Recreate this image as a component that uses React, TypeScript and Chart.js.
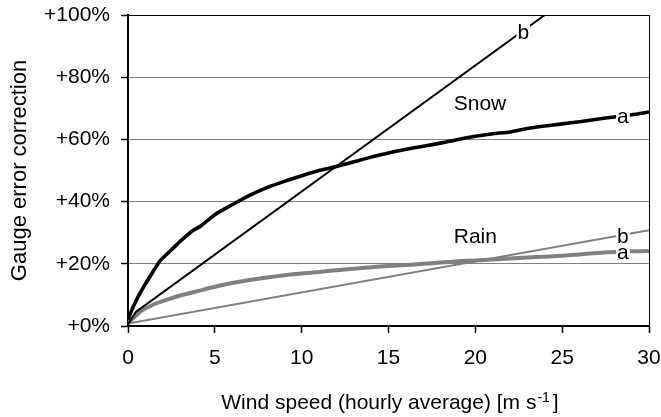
import React, { useEffect, useRef } from "react";
import { Chart, registerables } from "chart.js";

Chart.register(...registerables);

// ---- Data ----
const snowA_x = [0, 0.25, 0.5, 0.8, 1, 1.5, 1.85, 2.5, 3, 3.75, 4.15, 5, 6, 7, 8, 9, 10, 11, 12, 13, 14, 15, 16, 17, 18, 19, 20, 21, 22, 23, 24, 25, 26, 27, 28, 29, 30];
const snowA_y = [2, 5.5, 8.5, 11.6, 13.5, 18, 21, 24.5, 27.2, 30.8, 32, 35.8, 39, 42, 44.5, 46.5, 48.3, 50, 51.3, 52.8, 54.3, 55.6, 56.8, 57.8, 58.8, 60, 61, 61.8, 62.4, 63.5, 64.3, 65, 65.7, 66.5, 67.2, 67.9, 68.8];

const snowB_x = [0, 0.45, 24];
const snowB_y = [0.5, 4.5, 100];

const rainA_x = [0, 0.3, 0.7, 1, 1.5, 2, 3, 4, 5, 6, 7, 8, 9, 10, 11, 12, 13, 14, 15, 16, 17, 18, 19, 20, 21, 22, 23, 24, 25, 26, 27, 28, 29, 30];
const rainA_y = [1, 2.5, 4.6, 5.6, 7, 8, 9.8, 11.2, 12.6, 13.8, 14.8, 15.6, 16.3, 16.9, 17.4, 17.9, 18.4, 18.9, 19.3, 19.6, 20, 20.4, 20.8, 21.1, 21.4, 21.7, 22, 22.3, 22.6, 23, 23.5, 23.8, 24, 24.1];

const rainB_x = [0, 30];
const rainB_y = [0.8, 30.8];

const xTicks = [0, 5, 10, 15, 20, 25, 30];
const yTicks = [0, 20, 40, 60, 80, 100];

const yTitle = "Gauge error correction";
const xTitleMain = "Wind speed (hourly average) [m s";
const xTitleSup = "-1";
const xTitleEnd = "]";

// annotation texts anchored in data coordinates (x centre, baseline y)
const noteText = ["b", "a", "Snow", "Rain", "b", "a"];
const noteX = [22.76, 28.5, 20.27, 20.0, 28.5, 28.5];
const noteY = [92.2, 65.4, 69.5, 26.6, 26.6, 21.5];
const noteBg = [true, true, false, false, true, true];

const FONT = "'Liberation Sans', Arial, sans-serif";
const FS = 21;

function pts(xs: number[], ys: number[]) {
  return xs.map((x, i) => ({ x, y: ys[i] }));
}

function zeroPad(s: any) {
  s.paddingTop = 0;
  s.paddingBottom = 0;
  s.paddingLeft = 0;
  s.paddingRight = 0;
}

export default function App() {
  const ref = useRef<HTMLCanvasElement>(null);

  useEffect(() => {
    const framePlugin = {
      id: "frame",
      beforeDatasetsDraw(chart: any) {
        const { ctx, chartArea } = chart;
        ctx.save();
        ctx.strokeStyle = "#000";
        ctx.lineWidth = 1;
        ctx.beginPath();
        const x = Math.round(chartArea.right) + 0.5;
        ctx.moveTo(x, chartArea.top);
        ctx.lineTo(x, chartArea.bottom);
        ctx.stroke();
        ctx.restore();
      },
    };

    const notesPlugin = {
      id: "notes",
      afterDatasetsDraw(chart: any) {
        const { ctx } = chart;
        const xs = chart.scales.x;
        const ys = chart.scales.y;
        ctx.save();
        ctx.font = `${FS}px ${FONT}`;
        ctx.textAlign = "center";
        ctx.textBaseline = "alphabetic";
        noteText.forEach((t, i) => {
          const px = xs.getPixelForValue(noteX[i]);
          const py = ys.getPixelForValue(noteY[i]);
          const w = ctx.measureText(t).width;
          if (noteBg[i]) {
            const top = t === "b" ? py - 15.5 : py - 11.5;
            ctx.fillStyle = "#fff";
            ctx.fillRect(px - w / 2 - 1, top, w + 2, py - top + 0.5);
          }
          ctx.fillStyle = "#000";
          ctx.fillText(t, px, py);
        });
        ctx.restore();
      },
    };

    const xTitlePlugin = {
      id: "xtitle",
      afterDraw(chart: any) {
        const { ctx, chartArea } = chart;
        ctx.save();
        ctx.fillStyle = "#000";
        ctx.textAlign = "left";
        ctx.textBaseline = "alphabetic";
        const big = `${FS}px ${FONT}`;
        const small = `14px ${FONT}`;
        ctx.font = big;
        const w1 = ctx.measureText(xTitleMain).width;
        const w3 = ctx.measureText(xTitleEnd).width;
        ctx.font = small;
        const w2 = ctx.measureText(xTitleSup).width;
        const gapA = 1;
        const gapB = 3;
        const total = w1 + gapA + w2 + gapB + w3;
        const cx = (chartArea.left + chartArea.right) / 2 + 1.5;
        let x = cx - total / 2;
        const base = chartArea.bottom + 83;
        ctx.font = big;
        ctx.fillText(xTitleMain, x, base);
        x += w1 + gapA;
        ctx.font = small;
        ctx.fillText(xTitleSup, x, base - 7);
        x += w2 + gapB;
        ctx.font = big;
        ctx.fillText(xTitleEnd, x, base);
        ctx.restore();
      },
    };

    const chart = new Chart(ref.current as HTMLCanvasElement, {
      type: "line",
      data: {
        datasets: [
          { label: "Snow a", data: pts(snowA_x, snowA_y), borderColor: "#000", borderWidth: 3.6, pointRadius: 0, tension: 0.2, order: 1 },
          { label: "Snow b", data: pts(snowB_x, snowB_y), borderColor: "#000", borderWidth: 2, pointRadius: 0, tension: 0, order: 2 },
          { label: "Rain a", data: pts(rainA_x, rainA_y), borderColor: "#808080", borderWidth: 4, pointRadius: 0, tension: 0.2, order: 3 },
          { label: "Rain b", data: pts(rainB_x, rainB_y), borderColor: "#808080", borderWidth: 2, pointRadius: 0, tension: 0, order: 4 },
        ],
      },
      options: {
        animation: false,
        responsive: false,
        events: [],
        layout: { padding: { top: 15, right: 12, left: 0, bottom: 0 } },
        plugins: { legend: { display: false }, tooltip: { enabled: false } },
        scales: {
          x: {
            type: "linear",
            min: 0,
            max: 30,
            afterBuildTicks: (s: any) => {
              s.ticks = xTicks.map((v) => ({ value: v }));
            },
            ticks: { color: "#000", font: { family: FONT, size: FS }, padding: 13, maxRotation: 0, autoSkip: false },
            grid: { drawOnChartArea: false, tickColor: "#000", tickLength: 7, tickWidth: 1.5 },
            border: { color: "#000", width: 2 },
            afterFit: (s: any) => {
              s.height = 91;
              zeroPad(s);
            },
          },
          y: {
            type: "linear",
            min: 0,
            max: 100,
            afterBuildTicks: (s: any) => {
              s.ticks = yTicks.map((v) => ({ value: v }));
            },
            ticks: {
              color: "#000",
              font: { family: FONT, size: FS },
              padding: 11,
              autoSkip: false,
              callback: (v: any) => "+" + v + "%",
            },
            grid: {
              color: (c: any) => (c.tick && c.tick.value === 100 ? "#000" : "#808080"),
              lineWidth: 1,
              tickColor: "#000",
              tickLength: 7,
              tickWidth: 1.5,
            },
            border: { color: "#000", width: 2 },
            title: { display: true, text: yTitle, color: "#000", font: { family: FONT, size: 22 }, padding: { top: 7, bottom: 0 } },
            afterFit: (s: any) => {
              s.width = 128;
              zeroPad(s);
            },
          },
        },
      },
      plugins: [framePlugin, notesPlugin, xTitlePlugin],
    } as any);
    return () => chart.destroy();
  }, []);

  return (
    <div style={{ position: "absolute", left: 0, top: 0, width: 661, height: 417, background: "#fff" }}>
      <canvas ref={ref} width={661} height={417} style={{ display: "block", width: 661, height: 417 }} />
    </div>
  );
}
